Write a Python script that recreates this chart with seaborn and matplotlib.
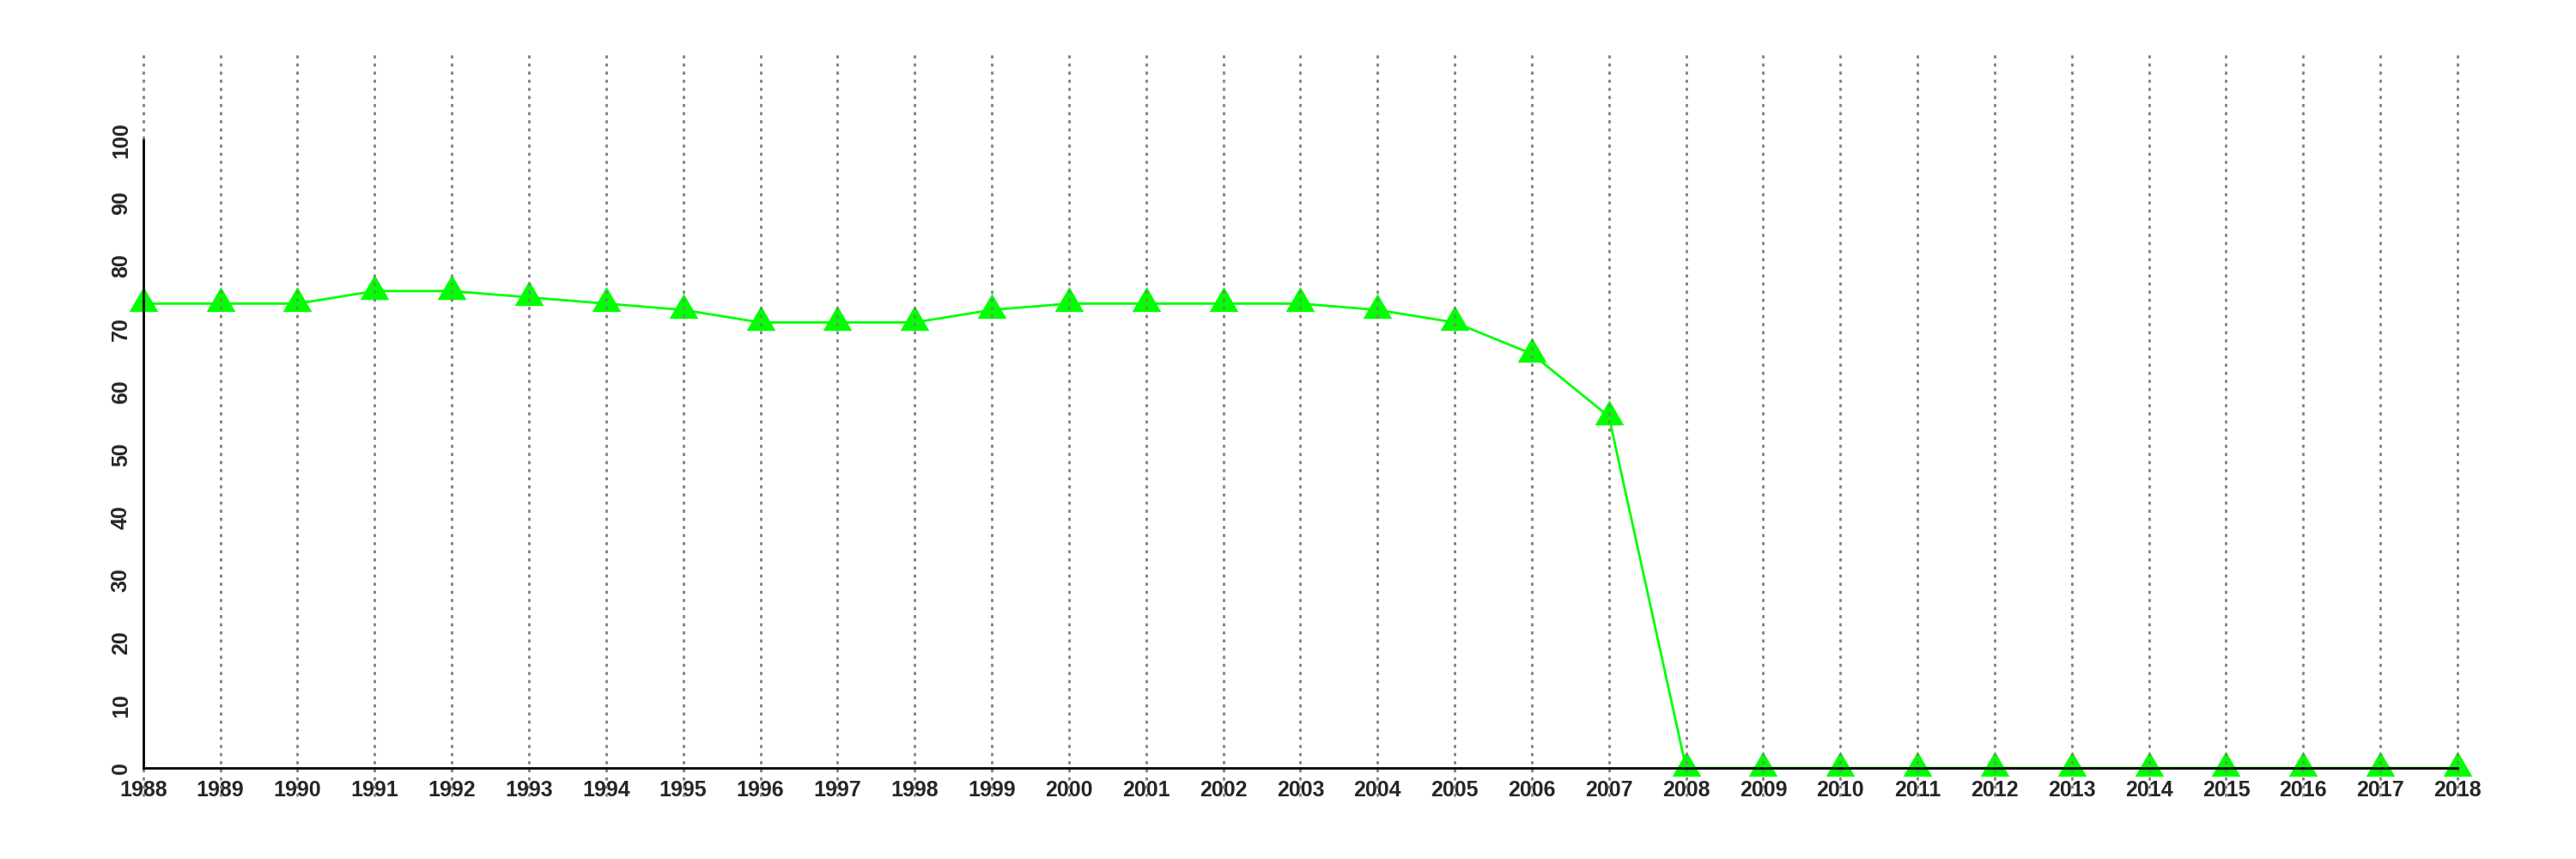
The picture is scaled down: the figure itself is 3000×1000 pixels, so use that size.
import pandas as pd
import matplotlib
matplotlib.use("Agg")
import matplotlib.pyplot as plt
import seaborn as sns

# values
years = list(range(1988, 2019))
values = [74, 74, 74, 76, 76, 75, 74, 73, 71, 71, 71, 73, 74, 74, 74, 74,
          73, 71, 66, 56, 0, 0, 0, 0, 0, 0, 0, 0, 0, 0, 0]
y_ticks = list(range(0, 101, 10))

df = pd.DataFrame({"year": years, "value": values})

sns.set_style("white")
plt.rcParams["font.family"] = ["Liberation Sans", "DejaVu Sans"]

fig = plt.figure(figsize=(30, 10), dpi=100)
ax = fig.add_axes([0.0556, 0.073, 0.8984, 0.868])

# equilateral triangle centred on its centroid (like R's pch 17)
tri = [(0, 1.155), (-1, -0.577), (1, -0.577), (0, 1.155)]

sns.lineplot(data=df, x="year", y="value", ax=ax, color="#00ff00",
             linewidth=2, marker=tri, markersize=28, markeredgewidth=0,
             markerfacecolor="#00ff00", zorder=2, clip_on=False)

ax.set_xlim(1988, 2018)
ax.set_ylim(-4.5, 114.3)
ax.set_xticks(years)
ax.set_yticks(y_ticks)
ax.set_xlabel("")
ax.set_ylabel("")

# dotted vertical grid over the whole plot height
ax.set_axisbelow(False)
ax.grid(False)
for yr in years:
    ax.axvline(yr, color="#808080", linewidth=2, linestyle=(0, (1.3, 2.1)),
               zorder=3, clip_on=False)

for side in ["top", "right"]:
    ax.spines[side].set_visible(False)
ax.spines["bottom"].set_position(("data", 0))
ax.spines["bottom"].set_bounds(1988, 2018)
ax.spines["left"].set_bounds(0, 100)
for side in ["bottom", "left"]:
    ax.spines[side].set_linewidth(2)
    ax.spines[side].set_color("black")
    ax.spines[side].set_zorder(4)

ax.tick_params(axis="both", direction="out", length=8, width=2, color="black",
               labelsize=18, pad=2)
for lab in ax.get_xticklabels():
    lab.set_fontweight("bold")
for lab in ax.get_yticklabels():
    lab.set_fontweight("bold")
    lab.set_rotation(90)
    lab.set_va("center")

fig.savefig("out.png", dpi=100)
